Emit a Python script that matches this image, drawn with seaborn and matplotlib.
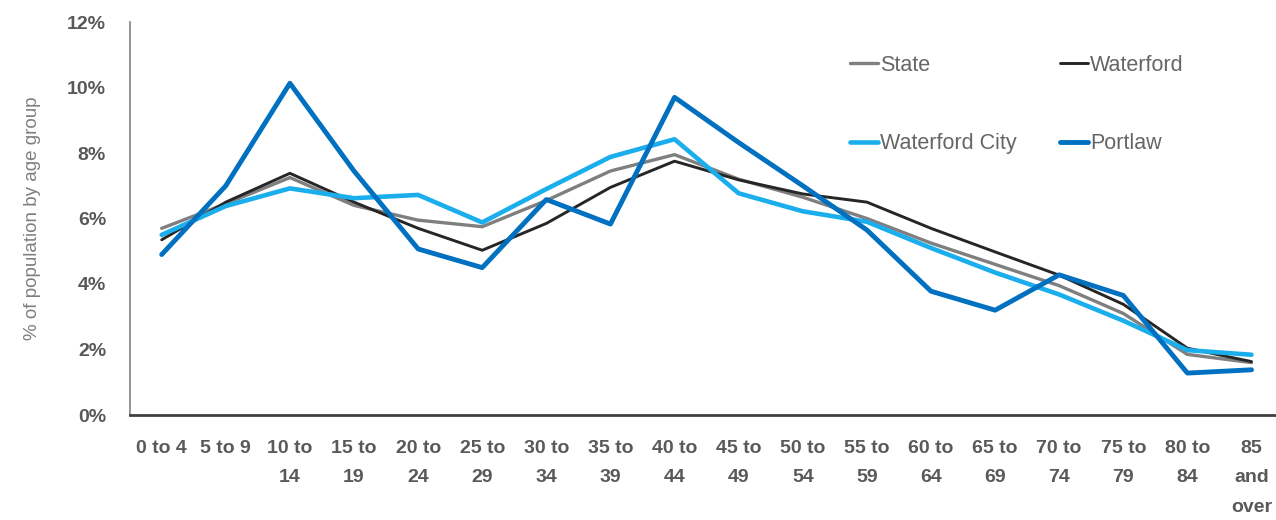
import matplotlib
matplotlib.use("Agg")
import matplotlib.pyplot as plt
from matplotlib.ticker import PercentFormatter
import seaborn as sns
import pandas as pd

age_groups = ["0 to 4", "5 to 9", "10 to\n14", "15 to\n19", "20 to\n24", "25 to\n29",
              "30 to\n34", "35 to\n39", "40 to\n44", "45 to\n49", "50 to\n54", "55 to\n59",
              "60 to\n64", "65 to\n69", "70 to\n74", "75 to\n79", "80 to\n84", "85\nand\nover"]
state = [5.7, 6.45, 7.25, 6.4, 5.95, 5.75, 6.55, 7.45, 7.95, 7.2, 6.65, 6.0, 5.25, 4.6, 3.95, 3.1, 1.85, 1.6]
waterford = [5.35, 6.5, 7.38, 6.5, 5.7, 5.03, 5.85, 6.95, 7.75, 7.18, 6.75, 6.5, 5.7, 4.98, 4.27, 3.38, 2.04, 1.63]
waterford_city = [5.5, 6.38, 6.92, 6.62, 6.72, 5.88, 6.9, 7.88, 8.42, 6.77, 6.22, 5.9, 5.1, 4.35, 3.68, 2.88, 1.98, 1.84]
portlaw = [4.9, 7.0, 10.13, 7.45, 5.07, 4.5, 6.58, 5.83, 9.7, 8.32, 7.0, 5.65, 3.78, 3.2, 4.28, 3.65, 1.28, 1.38]
y_ticks = [0, 2, 4, 6, 8, 10, 12]

series = {"State": state, "Waterford": waterford, "Waterford City": waterford_city, "Portlaw": portlaw}
colors = {"State": "#7f7f7f", "Waterford": "#262626", "Waterford City": "#1AAEEC", "Portlaw": "#0070C0"}
widths = {"State": 2.4, "Waterford": 2.1, "Waterford City": 3.3, "Portlaw": 3.5}

sns.set_theme(style="white")
plt.rcParams['font.family'] = ['Liberation Sans', 'DejaVu Sans']

fig = plt.figure(figsize=(12.76, 5.20), dpi=100)
ax = fig.add_axes([129.65 / 1276, 105 / 520, 1153.9 / 1276, 393 / 520])

x_pos = list(range(len(age_groups)))
lines = {}
for name, vals in series.items():
    df = pd.DataFrame({"x": x_pos, "y": vals})
    sns.lineplot(data=df, x="x", y="y", ax=ax, color=colors[name], linewidth=widths[name],
                 label=name, legend=False)
    lines[name] = ax.lines[-1]

ax.set_xlim(-0.5, len(age_groups) - 0.5)
ax.set_ylim(0, 12)
ax.set_yticks(y_ticks)
ax.yaxis.set_major_formatter(PercentFormatter(xmax=100, decimals=0))
ax.set_xticks(x_pos)
ax.set_xticklabels(age_groups, linespacing=1.95)
ax.tick_params(axis="both", length=0, labelsize=14, labelcolor="#595959")
ax.tick_params(axis="y", pad=17)
ax.tick_params(axis="x", pad=18)
for lbl in ax.get_xticklabels() + ax.get_yticklabels():
    lbl.set_fontweight("bold")
ax.set_xlabel("")
ax.set_ylabel("% of population by age group", fontsize=13.5, color="#7f7f7f", labelpad=19)

for s in ["top", "right"]:
    ax.spines[s].set_visible(False)
ax.spines["left"].set_color("#8c8c8c")
ax.spines["left"].set_linewidth(1.3)
ax.spines["bottom"].set_color("#404040")
ax.spines["bottom"].set_linewidth(2.0)
ax.grid(False)

order = ["State", "Waterford City", "Waterford", "Portlaw"]
fig.legend([lines[n] for n in order], order, ncol=2, loc="upper left",
           bbox_to_anchor=(850 / 1276, 1 - 55 / 520), bbox_transform=fig.transFigure,
           frameon=False, fontsize=15.5, labelcolor="#666666", handlelength=1.3,
           handletextpad=0.1, columnspacing=2.0, labelspacing=2.65, borderpad=0, borderaxespad=0)

fig.savefig("out.png", dpi=100)
